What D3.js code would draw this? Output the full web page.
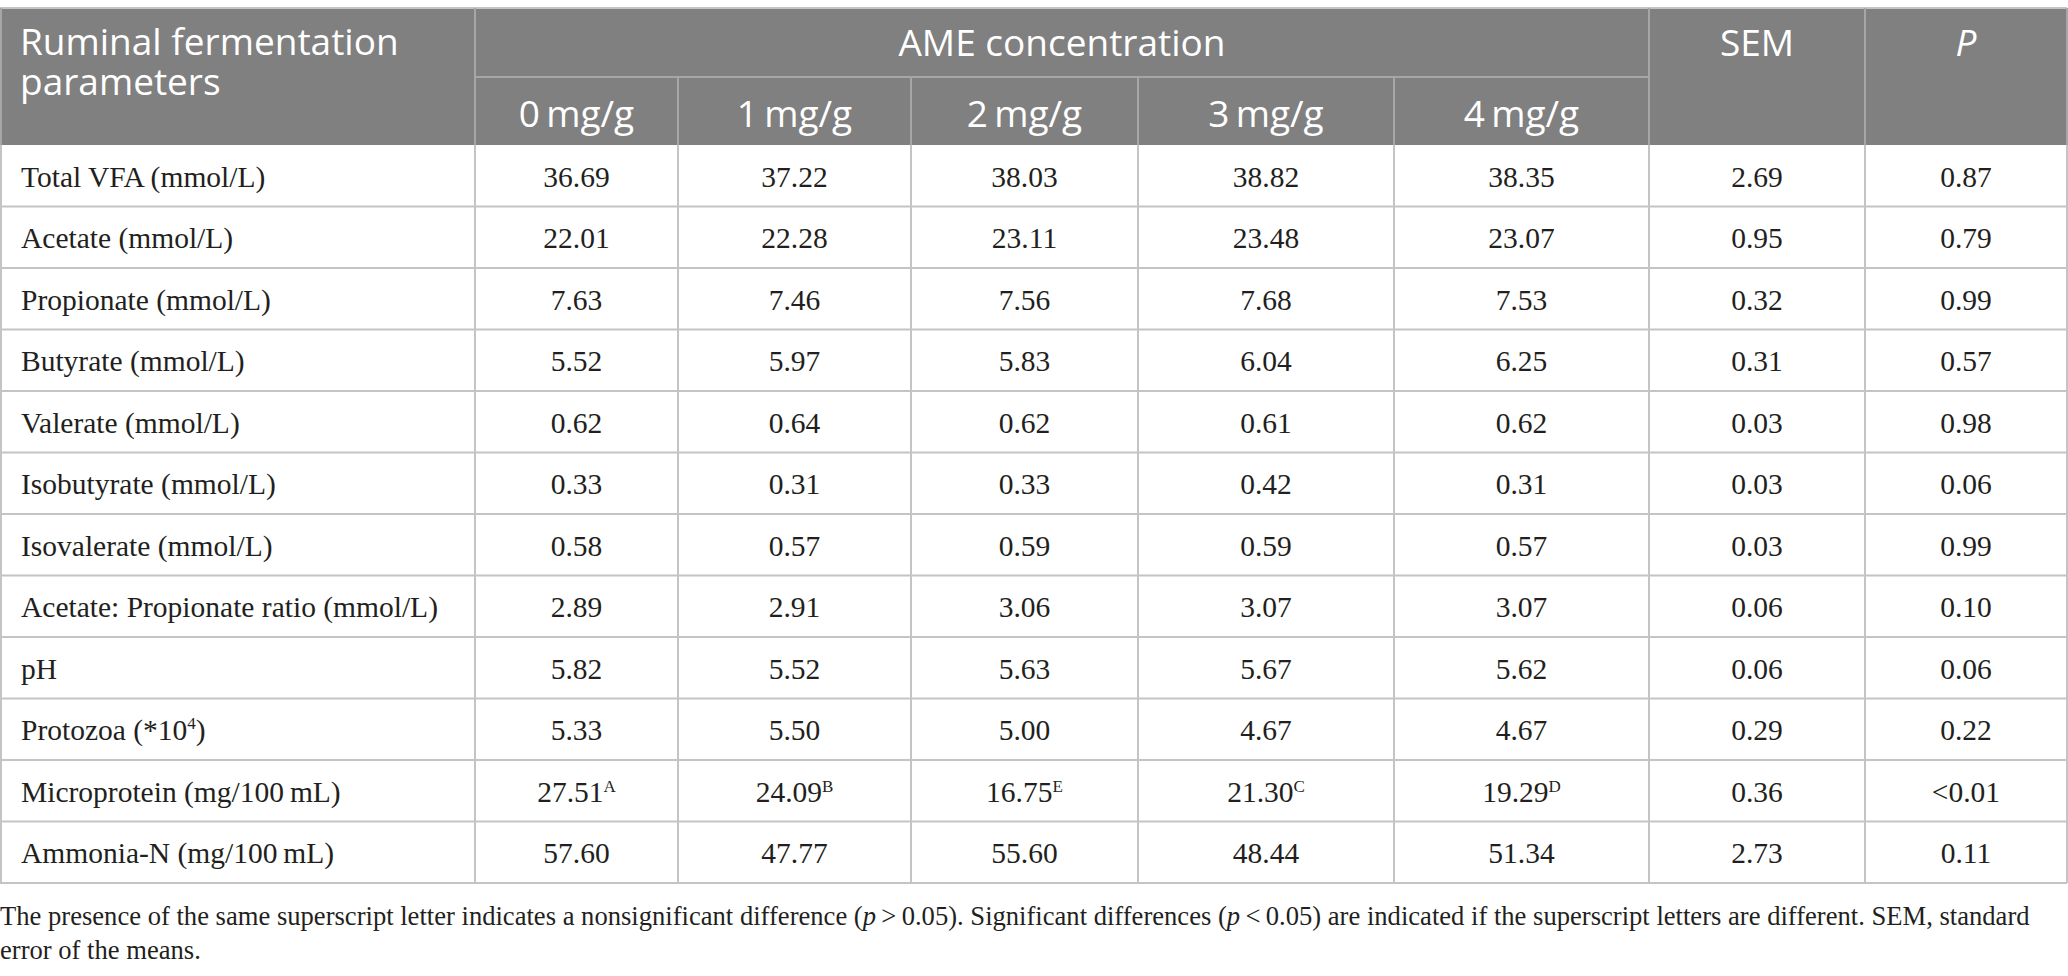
<!DOCTYPE html>
<html>
<head>
<meta charset="utf-8">
<script src="https://cdn.jsdelivr.net/npm/d3@7.9.0/dist/d3.min.js"></script>
<style>
  html, body { margin: 0; padding: 0; background: #fff; }
  svg { display: block; }
  .hd { font-family: "Open Sans", sans-serif; fill: #fff; font-size: 37px; }
  .bd { font-family: "Liberation Serif", "Times New Roman", serif; fill: #231f20; font-size: 29.5px; }
  .fn { font-family: "Liberation Serif", "Times New Roman", serif; fill: #231f20; font-size: 26.6px; }
</style>
</head>
<body>
<div id="chart"></div>
<script>
/* ---------- data --------- */
const params = [
  'Total VFA (mmol/L)', 'Acetate (mmol/L)', 'Propionate (mmol/L)', 'Butyrate (mmol/L)',
  'Valerate (mmol/L)', 'Isobutyrate (mmol/L)', 'Isovalerate (mmol/L)',
  'Acetate: Propionate ratio (mmol/L)', 'pH', 'Protozoa (*10|4|)',
  'Microprotein (mg/100\u2009mL)', 'Ammonia-N (mg/100\u2009mL)'
];
const doses = ['0\u2009mg/g', '1\u2009mg/g', '2\u2009mg/g', '3\u2009mg/g', '4\u2009mg/g'];

const dose0 = [36.69, 22.01, 7.63, 5.52, 0.62, 0.33, 0.58, 2.89, 5.82, 5.33, 27.51, 57.60];
const dose1 = [37.22, 22.28, 7.46, 5.97, 0.64, 0.31, 0.57, 2.91, 5.52, 5.50, 24.09, 47.77];
const dose2 = [38.03, 23.11, 7.56, 5.83, 0.62, 0.33, 0.59, 3.06, 5.63, 5.00, 16.75, 55.60];
const dose3 = [38.82, 23.48, 7.68, 6.04, 0.61, 0.42, 0.59, 3.07, 5.67, 4.67, 21.30, 48.44];
const dose4 = [38.35, 23.07, 7.53, 6.25, 0.62, 0.31, 0.57, 3.07, 5.62, 4.67, 19.29, 51.34];
// superscript letters (Microprotein row only)
const letters = [
  ['', '', '', '', '', '', '', '', '', '', 'A', ''],
  ['', '', '', '', '', '', '', '', '', '', 'B', ''],
  ['', '', '', '', '', '', '', '', '', '', 'E', ''],
  ['', '', '', '', '', '', '', '', '', '', 'C', ''],
  ['', '', '', '', '', '', '', '', '', '', 'D', '']
];
const sem = [2.69, 0.95, 0.32, 0.31, 0.03, 0.03, 0.03, 0.06, 0.06, 0.29, 0.36, 2.73];
const pVals = ['0.87', '0.79', '0.99', '0.57', '0.98', '0.06', '0.99', '0.10', '0.06', '0.22', '<0.01', '0.11'];

const footLines = [
  ['The presence of the same superscript letter indicates a nonsignificant difference (', ['p'], '\u2009>\u20090.05). Significant differences (', ['p'], '\u2009<\u20090.05) are indicated if the superscript letters are different. SEM, standard'],
  ['error of the means.']
];

/* ---------- layout --------- */
const W = 2068, H = 976;
const colKeys = ['param', 'd0', 'd1', 'd2', 'd3', 'd4', 'sem', 'p'];
const colEdges = [0, 475, 678, 911, 1138, 1394, 1649, 1865, 2067];
const xL = d3.scaleOrdinal().domain(colKeys).range(colEdges.slice(0, -1));
const xR = d3.scaleOrdinal().domain(colKeys).range(colEdges.slice(1));
const xC = k => (xL(k) + xR(k)) / 2;

const headTop = 8, headMid = 77, headBot = 145, tableBot = 883;
const y = d3.scaleBand().domain(params).range([headBot, tableBot]).padding(0);

const fmt = d3.format('.2f');
const doseVals = [dose0, dose1, dose2, dose3, dose4];

const svg = d3.select('#chart').append('svg')
  .attr('width', W).attr('height', H)
  .attr('viewBox', `0 0 ${W} ${H}`);

/* header background */
svg.append('rect')
  .attr('x', colEdges[0]).attr('y', headTop)
  .attr('width', colEdges[8] - colEdges[0]).attr('height', headBot - headTop)
  .attr('fill', '#808080');

/* body grid */
const grid = svg.append('g').attr('stroke', '#c4c4c4').attr('stroke-width', 2);
grid.selectAll('line.h')
  .data(params)
  .join('line')
  .attr('class', 'h')
  .attr('x1', colEdges[0]).attr('x2', colEdges[8])
  .attr('y1', d => y(d) + y.bandwidth()).attr('y2', d => y(d) + y.bandwidth());
grid.selectAll('line.v')
  .data(colEdges)
  .join('line')
  .attr('class', 'v')
  .attr('x1', d => Math.min(Math.max(d, 1), W - 1)).attr('x2', d => Math.min(Math.max(d, 1), W - 1))
  .attr('y1', headBot).attr('y2', tableBot);
grid.append('line')
  .attr('x1', colEdges[0]).attr('x2', colEdges[8])
  .attr('y1', headTop).attr('y2', headTop);

/* header grid (lighter lines on grey) */
const hg = svg.append('g').attr('stroke', '#a6a6a6').attr('stroke-width', 2);
hg.append('line')
  .attr('x1', xL('d0')).attr('x2', xR('d4'))
  .attr('y1', headMid).attr('y2', headMid);
hg.selectAll('line.v1')
  .data(['d0', 'sem', 'p'])
  .join('line').attr('class', 'v1')
  .attr('x1', d => xL(d)).attr('x2', d => xL(d))
  .attr('y1', headTop).attr('y2', headBot);
hg.selectAll('line.v2')
  .data(['d1', 'd2', 'd3', 'd4'])
  .join('line').attr('class', 'v2')
  .attr('x1', d => xL(d)).attr('x2', d => xL(d))
  .attr('y1', headMid).attr('y2', headBot);
hg.selectAll('line.side')
  .data([1, W - 1])
  .join('line').attr('class', 'side')
  .attr('x1', d => d).attr('x2', d => d)
  .attr('y1', headTop).attr('y2', headBot);

/* header text */
const head = svg.append('g').attr('class', 'hd');
head.selectAll('text.lbl')
  .data(['Ruminal fermentation', 'parameters'])
  .join('text')
  .attr('class', 'lbl')
  .attr('x', 20)
  .attr('y', (d, i) => 55 + i * 40)
  .text(d => d);
head.append('text')
  .attr('x', (xL('d0') + xR('d4')) / 2).attr('y', 56)
  .attr('text-anchor', 'middle')
  .text('AME concentration');
head.append('text')
  .attr('x', xC('sem')).attr('y', 56)
  .attr('text-anchor', 'middle')
  .text('SEM');
head.append('text')
  .attr('x', xC('p')).attr('y', 56)
  .attr('text-anchor', 'middle')
  .style('font-style', 'italic')
  .text('P');
head.selectAll('text.dose')
  .data(doses)
  .join('text')
  .attr('class', 'dose')
  .attr('x', (d, i) => xC('d' + i)).attr('y', 127)
  .attr('text-anchor', 'middle')
  .text(d => d);

/* body text */
const body = svg.append('g').attr('class', 'bd');
const base = d => y(d) + y.bandwidth() / 2 + 11;

const lab = body.selectAll('text.param')
  .data(params)
  .join('text')
  .attr('class', 'param')
  .attr('x', 21)
  .attr('y', base);
lab.each(function (d) {
  const parts = d.split('|');
  const t = d3.select(this);
  parts.forEach((p, i) => {
    if (!p) return;
    const ts = t.append('tspan').text(p);
    if (i === 1) ts.style('font-size', '17px').attr('dy', -11);
    if (i === 2) ts.attr('dy', 11);
  });
});

doseVals.forEach((vals, j) => {
  const k = 'd' + j;
  const tx = body.selectAll('text.' + k)
    .data(vals.map((v, i) => ({ v, s: letters[j][i], p: params[i] })))
    .join('text')
    .attr('class', k)
    .attr('x', xC(k))
    .attr('y', d => base(d.p))
    .attr('text-anchor', 'middle');
  tx.append('tspan').text(d => fmt(d.v));
  tx.filter(d => d.s)
    .append('tspan')
    .style('font-size', '17px')
    .attr('dy', -10)
    .text(d => d.s);
});

body.selectAll('text.sem')
  .data(sem)
  .join('text')
  .attr('class', 'sem')
  .attr('x', xC('sem'))
  .attr('y', (d, i) => base(params[i]))
  .attr('text-anchor', 'middle')
  .text(d => fmt(d));

body.selectAll('text.pv')
  .data(pVals)
  .join('text')
  .attr('class', 'pv')
  .attr('x', xC('p'))
  .attr('y', (d, i) => base(params[i]))
  .attr('text-anchor', 'middle')
  .text(d => d);

/* footnote */
const foot = svg.append('g').attr('class', 'fn');
footLines.forEach((parts, i) => {
  const t = foot.append('text').attr('x', 0).attr('y', 925 + i * 34);
  parts.forEach(p => {
    if (Array.isArray(p)) t.append('tspan').style('font-style', 'italic').text(p[0]);
    else t.append('tspan').text(p);
  });
});
</script>
</body>
</html>
